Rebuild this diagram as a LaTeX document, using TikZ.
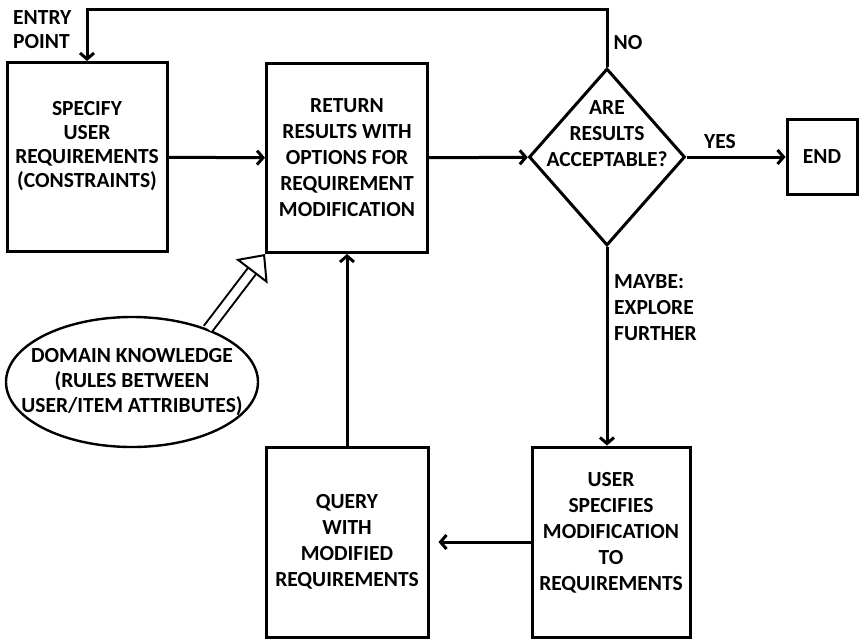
\documentclass[tikz,border=0pt]{standalone}
\usepackage{fontspec}
\setmainfont{Carlito}
\usetikzlibrary{arrows.meta,shapes.geometric,positioning}
\tikzset{
  flow/.style={line width=3pt, -{Straight Barb[length=6pt,width=14pt]}},
  hollow/.style={double, line width=2pt, double distance=8pt, -{Triangle[open,length=22pt,width=40pt]}},
  stepbox/.style={draw, line width=3pt, align=center, minimum width=160pt, minimum height=189pt, inner sep=0pt},
  tag/.style={align=left, inner sep=0pt},
}
\begin{document}
\begin{tikzpicture}[x=1pt, y=-1pt, font=\fontsize{21.5}{26}\selectfont\bfseries]
\useasboundingbox (0,0) rectangle (865,638);
% top row
\node[stepbox, text depth=26pt] (spec) at (87,157) {SPECIFY\\[-2pt]USER\\[-2pt]REQUIREMENTS\\[-2pt](CONSTRAINTS)};
\node[stepbox, minimum width=161pt] (ret) at (347,158) {RETURN\\RESULTS WITH\\OPTIONS FOR\\REQUIREMENT\\MODIFICATION};
\node[draw, diamond, line width=3pt, minimum width=156pt, minimum height=177pt, inner sep=0pt,
      label={[yshift=23pt, align=center]center:ARE\\RESULTS\\ACCEPTABLE?}] (dec) at (607,157) {};
\node[draw, line width=3pt, minimum width=70pt, minimum height=75pt] (fin) at (822,157) {END};
% bottom row
\node[stepbox, minimum width=162pt, minimum height=190pt] (qry) at (347,542) {QUERY\\WITH\\MODIFIED\\REQUIREMENTS};
\node[stepbox, minimum width=158pt, minimum height=190pt, text depth=22pt] (usr) at (611,542) {USER\\SPECIFIES\\MODIFICATION\\TO\\REQUIREMENTS};
\node[draw, ellipse, line width=2.4pt, minimum width=252pt, minimum height=130pt, inner xsep=-22pt, inner ysep=12pt, align=center] (dk) at (132,382)
  {DOMAIN KNOWLEDGE\\[-1pt](RULES BETWEEN\\[-1pt]USER/ITEM ATTRIBUTES)};
% labels
\node[tag, anchor=west] (entry) at (13,30) {ENTRY\\[-2pt]POINT};
\node (no) at (628,43) {NO};
\node (yes) at (720,142) {YES};
\node[tag, anchor=west] (maybe) at (614,308) {MAYBE:\\EXPLORE\\FURTHER};
% connectors
\draw[flow] (spec) -- (ret);
\draw[flow] (ret) -- (dec);
\draw[flow] (dec) -- (fin);
\draw[flow] (dec.north) -- ++(0,-58) -| (spec.north);
\draw[flow] (dec.south) -- (dec.south |- usr.north);
\draw[flow, shorten >=9pt] (usr) -- (qry);
\draw[flow] (qry) -- (ret);
\draw[hollow] (dk.35) -- (ret.south west);
\end{tikzpicture}
\end{document}
